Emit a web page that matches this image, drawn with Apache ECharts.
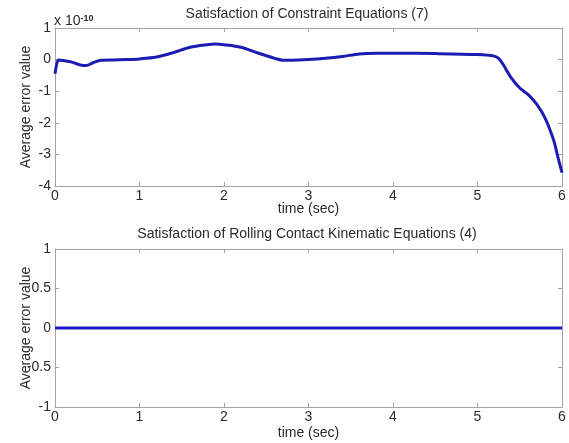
<!DOCTYPE html>
<html>
<head>
<meta charset="utf-8">
<script src="https://cdn.jsdelivr.net/npm/echarts@6/dist/echarts.min.js"></script>
<style>html,body{margin:0;padding:0;background:#fff;}#c{width:569px;height:443px;}</style>
</head>
<body>
<div id="c"></div>
<script>
// Top panel: constraint equation error (values in units of 1e-10)
var timeTop = [0, 0.02, 0.04, 0.1, 0.2, 0.3, 0.37, 0.45, 0.55, 0.7, 0.85, 1.0, 1.2, 1.4, 1.6, 1.8, 1.9, 2.0, 2.2, 2.4, 2.6, 2.7, 2.8, 3.0, 3.2, 3.4, 3.6, 3.8, 4.0, 4.5, 5.0, 5.2, 5.25, 5.3, 5.4, 5.5, 5.6, 5.7, 5.8, 5.9, 5.95, 6.0];
var errTop = [-0.45, -0.15, -0.01, -0.03, -0.08, -0.17, -0.19, -0.1, -0.02, -0.01, 0.0, 0.02, 0.08, 0.22, 0.39, 0.47, 0.49, 0.47, 0.39, 0.21, 0.04, -0.02, -0.02, 0.0, 0.04, 0.1, 0.18, 0.2, 0.2, 0.19, 0.16, 0.11, 0.04, -0.14, -0.58, -0.9, -1.11, -1.41, -1.85, -2.54, -3.07, -3.58];
// Bottom panel: rolling contact kinematic equation error
var timeBottom = [0, 1, 2, 3, 4, 5, 6];
var errBottom = [0, 0, 0, 0, 0, 0, 0];
var xTicks = [0, 1, 2, 3, 4, 5, 6];
var yTicksTop = [-4, -3, -2, -1, 0, 1];
var yTicksBottom = [-1, -0.5, 0, 0.5, 1];
var titles = ['Satisfaction of Constraint Equations (7)', 'Satisfaction of Rolling Contact Kinematic Equations (4)'];
var xName = 'time (sec)';
var yName = 'Average error value';

var chart = echarts.init(document.getElementById('c'), null, {renderer: 'canvas'});
var FONT = 'Liberation Sans';
var TXT = '#2b2b2b';
var AX = '#a3a3a3';

function pairs(xs, ys) { return xs.map(function (x, i) { return [x, ys[i]]; }); }

function xAxes(gi, gap) {
  return [{
    type: 'value', gridIndex: gi, position: 'bottom', min: xTicks[0], max: xTicks[xTicks.length - 1], interval: 1,
    name: xName, nameLocation: 'middle', nameGap: gap, nameMoveOverlap: false,
    nameTextStyle: {fontFamily: FONT, fontSize: 14, color: TXT},
    axisLine: {show: true, onZero: false, lineStyle: {color: AX, width: 1}},
    axisTick: {show: true, inside: true, length: 4, lineStyle: {color: AX}},
    axisLabel: {fontFamily: FONT, fontSize: 14, color: TXT, margin: 3},
    splitLine: {show: false}
  }, {
    type: 'value', gridIndex: gi, position: 'top', min: xTicks[0], max: xTicks[xTicks.length - 1], interval: 1,
    axisLine: {show: true, onZero: false, lineStyle: {color: AX, width: 1}},
    axisTick: {show: true, inside: true, length: 4, lineStyle: {color: AX}},
    axisLabel: {show: false}, splitLine: {show: false}
  }];
}
function yAxes(gi, ticks, interval) {
  var mn = ticks[0], mx = ticks[ticks.length - 1];
  return [{
    type: 'value', gridIndex: gi, position: 'left', min: mn, max: mx, interval: interval,
    name: yName, nameLocation: 'middle', nameGap: 22, nameRotate: 90, nameMoveOverlap: false,
    nameTextStyle: {fontFamily: FONT, fontSize: 14, color: TXT},
    axisLine: {show: true, onZero: false, lineStyle: {color: AX, width: 1}},
    axisTick: {show: true, inside: true, length: 4, lineStyle: {color: AX}},
    axisLabel: {fontFamily: FONT, fontSize: 14, color: TXT, margin: 4, showMinLabel: true, showMaxLabel: true},
    splitLine: {show: false}
  }, {
    type: 'value', gridIndex: gi, position: 'right', min: mn, max: mx, interval: interval,
    axisLine: {show: true, onZero: false, lineStyle: {color: AX, width: 1}},
    axisTick: {show: true, inside: true, length: 4, lineStyle: {color: AX}},
    axisLabel: {show: false}, splitLine: {show: false}
  }];
}

var xa = xAxes(0, 16).concat(xAxes(1, 19));
var ya = yAxes(0, yTicksTop, 1).concat(yAxes(1, yTicksBottom, 0.5));

chart.setOption({
  animation: false,
  backgroundColor: '#ffffff',
  title: [
    {text: titles[0], left: 307, top: 7, padding: 0, textAlign: 'center',
     textStyle: {fontFamily: FONT, fontSize: 14, fontWeight: 'normal', color: TXT}},
    {text: titles[1], left: 307, top: 227, padding: 0, textAlign: 'center',
     textStyle: {fontFamily: FONT, fontSize: 14, fontWeight: 'normal', color: TXT}},
    {text: 'x 10{s|-10}', left: 54, top: 14, padding: 0,
     textStyle: {fontFamily: FONT, fontSize: 14, fontWeight: 'normal', color: TXT,
       rich: {s: {fontFamily: FONT, fontSize: 9, fontWeight: 'bold', color: TXT, verticalAlign: 'top', lineHeight: 10, padding: [0, 0, 8, 0]}}}}
  ],
  grid: [
    {left: 55, top: 28, width: 507, height: 158, containLabel: false, outerBoundsMode: 'none'},
    {left: 55, top: 249, width: 507, height: 158, containLabel: false, outerBoundsMode: 'none'}
  ],
  xAxis: xa,
  yAxis: ya,
  series: [
    {type: 'line', xAxisIndex: 0, yAxisIndex: 0, data: pairs(timeTop, errTop), smooth: 0.3,
     showSymbol: false, lineStyle: {color: '#1c1cb4', width: 3}},
    {type: 'line', xAxisIndex: 2, yAxisIndex: 2, data: pairs(timeBottom, errBottom),
     showSymbol: false, lineStyle: {color: '#1c1cc4', width: 3}}
  ]
});
</script>
</body>
</html>
